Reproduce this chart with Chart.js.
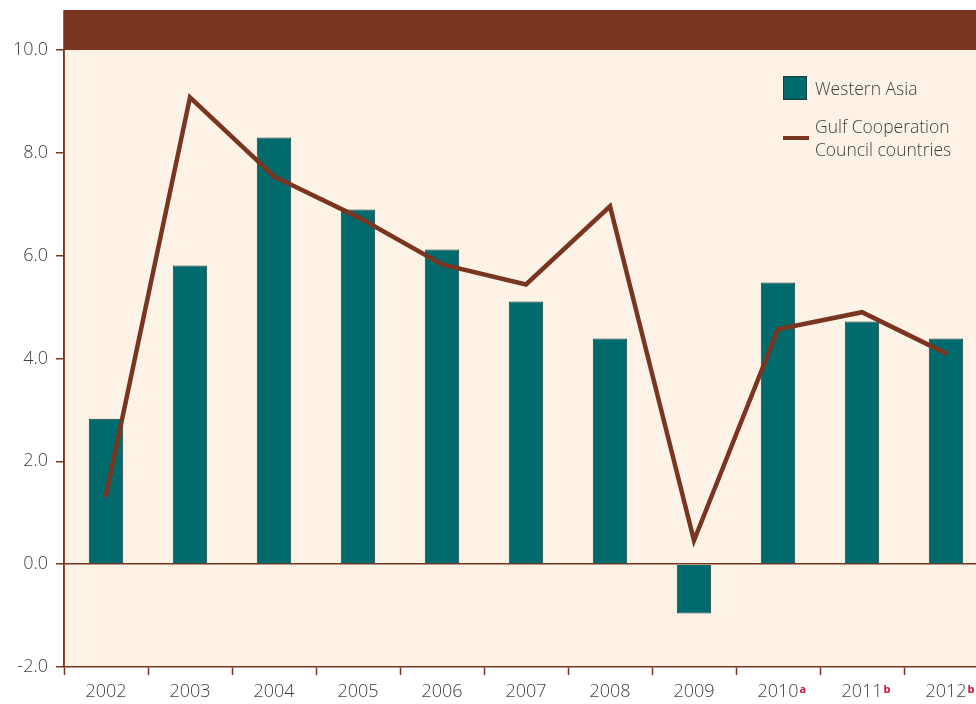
<!DOCTYPE html>
<html>
<head>
<meta charset="utf-8">
<script src="https://cdn.jsdelivr.net/npm/chart.js@4/dist/chart.umd.min.js"></script>
<style>
  html, body { margin: 0; padding: 0; background: #ffffff; overflow: hidden; }
  #wrap { position: relative; width: 976px; height: 704px; overflow: hidden; }
  #c { display: block; }
  #legend { position: absolute; left: 783px; top: 76px; font-family: "Open Sans", sans-serif; font-weight: 300; font-size: 17.5px; color: #3f3f3f; line-height: 23px; }
  .row { display: flex; align-items: center; }
  .sq { width: 22px; height: 22px; background: #006a6c; border: 1px solid #1d3d3d; margin-right: 8px; }
  .ln { width: 26px; height: 4px; background: #7a3520; margin-right: 6px; }
</style>
</head>
<body>
<div id="wrap">
  <canvas id="c" width="988" height="704"></canvas>
  <div id="legend">
    <div class="row"><div class="sq"></div><div>Western Asia</div></div>
    <div class="row" style="margin-top:15px"><div class="ln"></div><div>Gulf Cooperation<br>Council countries</div></div>
  </div>
</div>
<script>
const categories = ["2002","2003","2004","2005","2006","2007","2008","2009","2010","2011","2012"];
const superscripts = ["","","","","","","","","a","b","b"];
const westernAsia = [2.83, 5.81, 8.30, 6.90, 6.12, 5.11, 4.39, -0.96, 5.48, 4.72, 4.39];
const gccCountries = [1.34, 9.08, 7.54, 6.75, 5.83, 5.44, 6.96, 0.46, 4.57, 4.90, 4.10];
const yTicks = [-2, 0, 2, 4, 6, 8, 10];

const BROWN = "#7a3520";
const TEXT = "#3f3f3f";
const FONT = { family: "'Open Sans', sans-serif", size: 18, weight: 300 };

const decor = {
  id: "decor",
  beforeDraw(chart) {
    const { ctx, chartArea: a } = chart;
    ctx.save();
    ctx.fillStyle = "#fcf3e6";
    ctx.fillRect(a.left, a.top, a.right - a.left, a.bottom - a.top);
    ctx.fillStyle = BROWN;
    ctx.fillRect(a.left, a.top - 40, a.right - a.left, 40);
    ctx.restore();
  },
  afterDraw(chart) {
    const { ctx } = chart;
    const xs = chart.scales.x;
    ctx.save();
    ctx.font = "300 " + FONT.size + "px " + FONT.family;
    const baseY = xs.top + 26;
    superscripts.forEach((s, i) => {
      if (!s) return;
      const w = ctx.measureText(categories[i]).width;
      const cx = xs.getPixelForTick(i);
      ctx.save();
      ctx.font = "bold 11px " + FONT.family;
      ctx.fillStyle = "#cf1239";
      ctx.textAlign = "left";
      ctx.textBaseline = "alphabetic";
      ctx.fillText(s, cx + w / 2 + 1, baseY);
      ctx.restore();
    });
    const a = chart.chartArea;
    ctx.strokeStyle = BROWN;
    ctx.lineWidth = 1.5;
    ctx.beginPath();
    ctx.moveTo(a.left, a.top - 40);
    ctx.lineTo(a.left, a.bottom);
    ctx.stroke();
    ctx.restore();
  }
};

new Chart(document.getElementById("c"), {
  data: {
    labels: categories,
    datasets: [
      {
        type: "line",
        label: "Gulf Cooperation Council countries",
        data: gccCountries,
        borderColor: BROWN,
        borderWidth: 4.5,
        pointRadius: 0,
        tension: 0,
        borderCapStyle: "round",
        borderJoinStyle: "miter",
        order: 0
      },
      {
        type: "bar",
        label: "Western Asia",
        data: westernAsia,
        backgroundColor: "#006a6c",
        borderColor: "#1d3d3d",
        borderWidth: 1,
        categoryPercentage: 1,
        barPercentage: 0.41,
        order: 1
      }
    ]
  },
  options: {
    responsive: false,
    animation: false,
    layout: { padding: { top: 50, left: 0, right: 0, bottom: 0 } },
    plugins: { legend: { display: false }, tooltip: { enabled: false } },
    scales: {
      x: {
        offset: true,
        grid: { offset: true, drawOnChartArea: false, tickLength: 8, tickColor: BROWN, tickWidth: 1.5 },
        border: { display: true, color: BROWN, width: 1.5 },
        ticks: { color: TEXT, font: FONT, padding: 6, maxRotation: 0 },
        afterFit(s) { s.height = 37; }
      },
      y: {
        min: -2, max: 10,
        afterBuildTicks(s) { s.ticks = yTicks.map(v => ({ value: v })); },
        grid: {
          color: ctx => (ctx.tick && ctx.tick.value === 0) ? BROWN : "rgba(0,0,0,0)",
          lineWidth: 1.5,
          tickColor: BROWN,
          tickLength: 8,
          tickWidth: 1.5
        },
        border: { display: true, color: BROWN, width: 1.5 },
        ticks: { color: TEXT, font: FONT, padding: 8, callback: v => Number(v).toFixed(1) },
        afterFit(s) { s.width = 64; }
      }
    }
  },
  plugins: [decor]
});
</script>
</body>
</html>
